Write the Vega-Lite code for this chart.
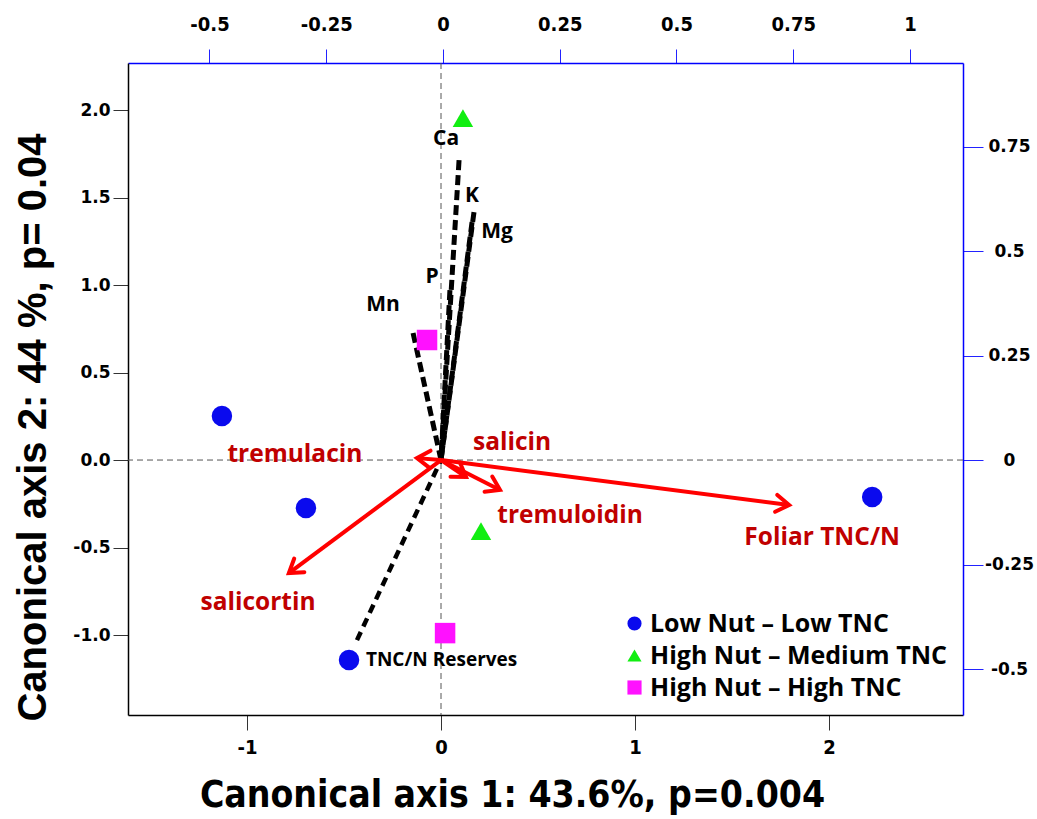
{
  "$schema": "https://vega.github.io/schema/vega-lite/v6.json",
  "width": 835,
  "height": 652,
  "autosize": {"type": "none"},
  "padding": {"left": 128, "top": 63, "right": 74, "bottom": 104},
  "background": "white",
  "config": {
    "view": {"stroke": null},
    "locale": {"number": {"decimal": ".", "thousands": ",", "grouping": [3], "currency": ["$", ""], "minus": "-"}},
    "axis": {"grid": false}
  },
  "datasets": {
    "samples": [
      {"group": "Low Nut – Low TNC", "x": -1.129, "y": 0.251},
      {"group": "Low Nut – Low TNC", "x": -0.696, "y": -0.274},
      {"group": "Low Nut – Low TNC", "x": -0.474, "y": -1.143},
      {"group": "Low Nut – Low TNC", "x": 2.222, "y": -0.211},
      {"group": "High Nut – Medium TNC", "x": 0.113, "y": 1.954},
      {"group": "High Nut – Medium TNC", "x": 0.206, "y": -0.406},
      {"group": "High Nut – High TNC", "x": -0.072, "y": 0.686},
      {"group": "High Nut – High TNC", "x": 0.021, "y": -0.989}
    ],
    "loadings": [
      {"name": "Ca", "kind": "nutrient", "x": 0.093, "y": 1.714, "labelX": 0.026, "labelY": 1.834},
      {"name": "K", "kind": "nutrient", "x": 0.17, "y": 1.417, "labelX": 0.16, "labelY": 1.509},
      {"name": "Mg", "kind": "nutrient", "x": 0.16, "y": 1.36, "labelX": 0.289, "labelY": 1.303},
      {"name": "P", "kind": "nutrient", "x": 0.046, "y": 0.971, "labelX": -0.046, "labelY": 1.046},
      {"name": "Mn", "kind": "nutrient", "x": -0.144, "y": 0.726, "labelX": -0.299, "labelY": 0.886},
      {"name": "TNC/N Reserves", "kind": "reserve", "x": -0.433, "y": -1.029, "labelX": -0.387, "labelY": -1.143},
      {"name": "tremulacin", "kind": "chem", "x": -0.124, "y": 0.011, "labelX": -0.753, "labelY": 0.029},
      {"name": "salicortin", "kind": "chem", "x": -0.784, "y": -0.646, "labelX": -0.943, "labelY": -0.817},
      {"name": "salicin", "kind": "chem", "x": 0.129, "y": -0.097, "labelX": 0.366, "labelY": 0.097},
      {"name": "tremuloidin", "kind": "chem", "x": 0.304, "y": -0.171, "labelX": 0.665, "labelY": -0.32},
      {"name": "Foliar TNC/N", "kind": "chem", "x": 1.794, "y": -0.257, "labelX": 1.964, "labelY": -0.446}
    ]
  },
  "layer": [
    {
      "layer": [
        {
          "data": {"values": [{"zero": 0}]},
          "mark": {"type": "rule", "color": "#555", "strokeWidth": 1, "strokeDash": [6, 4]},
          "encoding": {
            "x": {
              "field": "zero", "type": "quantitative",
              "scale": {"domain": [-1.613, 2.69], "nice": false, "zero": false},
              "axis": {
                "orient": "bottom", "values": [-1, 0, 1, 2], "format": "d",
                "title": "Canonical axis 1: 43.6%, p=0.004",
                "titleFont": "DejaVu Sans Condensed", "titleFontWeight": "bold", "titleFontSize": 37, "titleColor": "black",
                "titleX": 384, "titleY": 80, "titleBaseline": "middle", "titleAlign": "center", "titleAnchor": null,
                "labelFont": "DejaVu Sans Condensed", "labelFontWeight": "bold", "labelFontSize": 20, "labelColor": "black",
                "tickSize": 15, "tickColor": "#333", "tickWidth": 1, "domainColor": "black", "domainWidth": 1.5, "labelPadding": 7
              }
            }
          }
        },
        {
          "data": {"values": [{"zero": 0}]},
          "mark": {"type": "rule", "color": "#555", "strokeWidth": 1, "strokeDash": [6, 4]},
          "encoding": {
            "y": {
              "field": "zero", "type": "quantitative",
              "scale": {"domain": [-1.457, 2.269], "nice": false, "zero": false},
              "axis": {
                "orient": "left", "values": [-1, -0.5, 0, 0.5, 1, 1.5, 2], "format": ".1f",
                "title": "Canonical axis 2: 44 %, p= 0.04",
                "titleFont": "Liberation Sans", "titleFontWeight": "bold", "titleFontSize": 40, "titleColor": "black",
                "titleX": -95, "titleY": 364, "titleAngle": 270, "titleBaseline": "middle", "titleAlign": "center", "titleAnchor": null,
                "labelFont": "DejaVu Sans", "labelFontWeight": "bold", "labelFontSize": 17, "labelColor": "black",
                "tickSize": 15, "tickColor": "#333", "tickWidth": 1, "domainColor": "black", "domainWidth": 1.5, "labelPadding": 3
              }
            }
          }
        },
        {
          "data": {"name": "loadings"},
          "transform": [{"filter": "datum.kind == 'nutrient'"}],
          "mark": {"type": "rule", "color": "black", "strokeWidth": 5, "strokeDash": [10, 5]},
          "encoding": {
            "x": {"field": "x", "type": "quantitative", "scale": {"domain": [-1.613, 2.69], "nice": false, "zero": false}},
            "y": {"field": "y", "type": "quantitative", "scale": {"domain": [-1.457, 2.269], "nice": false, "zero": false}},
            "x2": {"datum": 0},
            "y2": {"datum": 0}
          }
        },
        {
          "data": {"name": "loadings"},
          "transform": [{"filter": "datum.kind == 'reserve'"}],
          "mark": {"type": "rule", "color": "black", "strokeWidth": 4.5, "strokeDash": [9, 6]},
          "encoding": {
            "x": {"field": "x", "type": "quantitative", "scale": {"domain": [-1.613, 2.69], "nice": false, "zero": false}},
            "y": {"field": "y", "type": "quantitative", "scale": {"domain": [-1.457, 2.269], "nice": false, "zero": false}},
            "x2": {"datum": 0},
            "y2": {"datum": 0}
          }
        },
        {
          "data": {"name": "loadings"},
          "transform": [{"filter": "datum.kind == 'chem'"}],
          "mark": {"type": "rule", "color": "#ff0000", "strokeWidth": 4},
          "encoding": {
            "x": {"field": "x", "type": "quantitative", "scale": {"domain": [-1.613, 2.69], "nice": false, "zero": false}},
            "y": {"field": "y", "type": "quantitative", "scale": {"domain": [-1.457, 2.269], "nice": false, "zero": false}},
            "x2": {"datum": 0},
            "y2": {"datum": 0}
          }
        },
        {
          "data": {"name": "loadings"},
          "transform": [
            {"filter": "datum.kind == 'chem'"},
            {"calculate": "atan2(-datum.y * 175.0, datum.x * 194.05) * 180 / PI", "as": "heading"}
          ],
          "mark": {"type": "point", "shape": "M -1.3 -0.85 L 0 0 L -1.3 0.85", "filled": false, "stroke": "#ff0000", "strokeWidth": 4, "strokeCap": "round", "strokeJoin": "miter", "size": 400, "opacity": 1},
          "encoding": {
            "x": {"field": "x", "type": "quantitative", "scale": {"domain": [-1.613, 2.69], "nice": false, "zero": false}},
            "y": {"field": "y", "type": "quantitative", "scale": {"domain": [-1.457, 2.269], "nice": false, "zero": false}},
            "angle": {"field": "heading", "type": "quantitative", "scale": null}
          }
        },
        {
          "data": {"name": "samples"},
          "mark": {"type": "point", "filled": true, "size": 420, "opacity": 1},
          "encoding": {
            "x": {"field": "x", "type": "quantitative", "scale": {"domain": [-1.613, 2.69], "nice": false, "zero": false}},
            "y": {"field": "y", "type": "quantitative", "scale": {"domain": [-1.457, 2.269], "nice": false, "zero": false}},
            "color": {
              "field": "group", "type": "nominal",
              "scale": {"domain": ["Low Nut – Low TNC", "High Nut – Medium TNC", "High Nut – High TNC"], "range": ["#0a0aee", "#11ee11", "#ff11ff"]},
              "legend": {
                "orient": "none", "legendX": 494, "legendY": 548, "title": null,
                "labelFont": "Open Sans", "labelFontWeight": "bold", "labelFontSize": 25, "labelColor": "black", "labelLimit": 400,
                "symbolSize": 200, "symbolStrokeWidth": 0, "rowPadding": 6, "labelOffset": 3, "padding": 0
              }
            },
            "shape": {
              "field": "group", "type": "nominal",
              "scale": {"domain": ["Low Nut – Low TNC", "High Nut – Medium TNC", "High Nut – High TNC"], "range": ["circle", "triangle-up", "square"]}
            }
          }
        },
        {
          "data": {"name": "loadings"},
          "transform": [{"filter": "datum.kind == 'nutrient'"}],
          "mark": {"type": "text", "font": "Open Sans", "fontWeight": "bold", "fontSize": 21, "color": "black", "align": "center", "baseline": "middle"},
          "encoding": {
            "x": {"field": "labelX", "type": "quantitative", "scale": {"domain": [-1.613, 2.69], "nice": false, "zero": false}},
            "y": {"field": "labelY", "type": "quantitative", "scale": {"domain": [-1.457, 2.269], "nice": false, "zero": false}},
            "text": {"field": "name"}
          }
        },
        {
          "data": {"name": "loadings"},
          "transform": [{"filter": "datum.kind == 'reserve'"}],
          "mark": {"type": "text", "font": "Open Sans", "fontWeight": "bold", "fontSize": 19, "color": "black", "align": "left", "baseline": "middle"},
          "encoding": {
            "x": {"field": "labelX", "type": "quantitative", "scale": {"domain": [-1.613, 2.69], "nice": false, "zero": false}},
            "y": {"field": "labelY", "type": "quantitative", "scale": {"domain": [-1.457, 2.269], "nice": false, "zero": false}},
            "text": {"field": "name"}
          }
        },
        {
          "data": {"name": "loadings"},
          "transform": [{"filter": "datum.kind == 'chem'"}],
          "mark": {"type": "text", "font": "Open Sans", "fontWeight": "bold", "fontSize": 24.5, "color": "#c00000", "align": "center", "baseline": "middle"},
          "encoding": {
            "x": {"field": "labelX", "type": "quantitative", "scale": {"domain": [-1.613, 2.69], "nice": false, "zero": false}},
            "y": {"field": "labelY", "type": "quantitative", "scale": {"domain": [-1.457, 2.269], "nice": false, "zero": false}},
            "text": {"field": "name"}
          }
        }
      ]
    },
    {
      "data": {"values": [{"t": 0}]},
      "mark": {"type": "point", "opacity": 0},
      "encoding": {
        "x": {
          "field": "t", "type": "quantitative",
          "scale": {"domain": [-0.6745, 1.1135], "nice": false, "zero": false},
          "axis": {
            "orient": "top", "values": [-0.5, -0.25, 0, 0.25, 0.5, 0.75, 1], "format": ".2~f", "title": null,
            "labelFont": "DejaVu Sans Condensed", "labelFontWeight": "bold", "labelFontSize": 20, "labelColor": "black",
            "tickSize": 14, "tickColor": "#2222ff", "tickWidth": 1, "domainColor": "#0000ff", "domainWidth": 1.5, "labelPadding": 15
          }
        }
      }
    },
    {
      "data": {"values": [{"t": 0}]},
      "mark": {"type": "point", "opacity": 0},
      "encoding": {
        "y": {
          "field": "t", "type": "quantitative",
          "scale": {"domain": [-0.61, 0.95], "nice": false, "zero": false},
          "axis": {
            "orient": "right", "values": [-0.5, -0.25, 0, 0.25, 0.5, 0.75], "format": ".2~f", "title": null,
            "labelFont": "DejaVu Sans", "labelFontWeight": "bold", "labelFontSize": 17, "labelColor": "black", "labelAlign": "center",
            "tickSize": 20, "tickColor": "#2222ff", "tickWidth": 1, "domainColor": "#0000ff", "domainWidth": 1.5, "labelPadding": 26
          }
        }
      }
    }
  ],
  "resolve": {"scale": {"x": "independent", "y": "independent"}, "axis": {"x": "independent", "y": "independent"}}
}
